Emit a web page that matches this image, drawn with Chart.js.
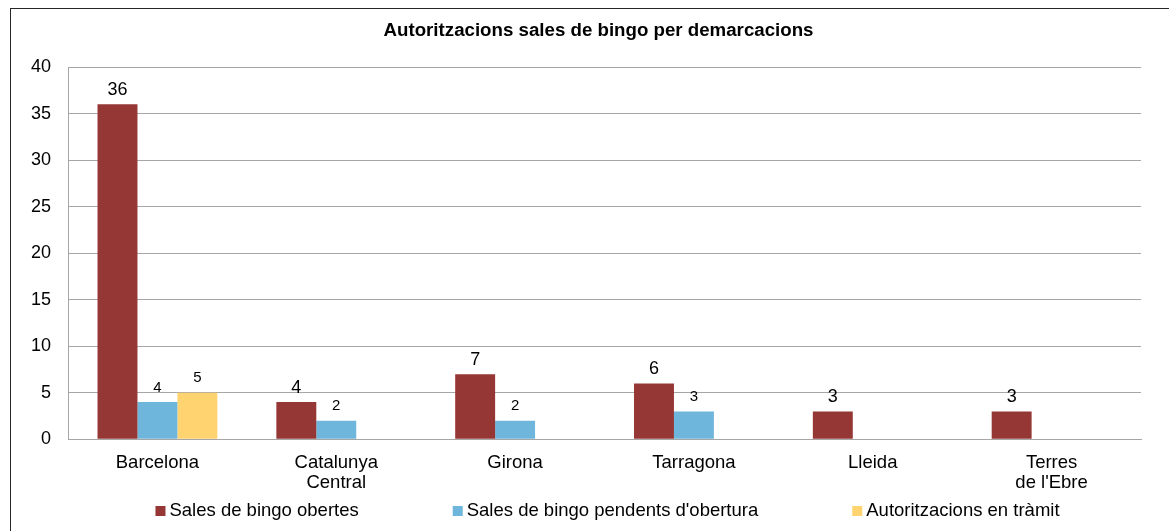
<!DOCTYPE html>
<html lang="ca">
<head>
<meta charset="UTF-8">
<title>Autoritzacions sales de bingo per demarcacions</title>
<script src="https://cdn.jsdelivr.net/npm/chart.js"></script>
<style>
  html, body { margin: 0; padding: 0; background: #fff; }
  .chart-wrap { width: 1169px; height: 531px; position: relative; }
</style>
</head>
<body>
<div class="chart-wrap"><canvas id="bingoChart"></canvas></div>
<script>
// dades
const demarcacions = ['Barcelona', ['Catalunya', 'Central'], 'Girona', 'Tarragona', 'Lleida', ['Terres', "de l'Ebre"]];
const salesObertes = [36, 4, 7, 6, 3, 3];
const salesPendents = [4, 2, 2, 3, null, null];
const autoritzacionsTramit = [5, null, null, null, null, null];
const yMax = 40;
const yStep = 5;

const FONT = "'Liberation Sans', Arial, sans-serif";

// marc exterior + titol
const framePlugin = {
  id: 'frame',
  afterDraw(chart) {
    const ctx = chart.ctx;
    const area = chart.chartArea;
    ctx.save();
    ctx.strokeStyle = '#262626';
    ctx.lineWidth = 1;
    ctx.strokeRect(10.5, 8.5, chart.width, chart.height);
    ctx.fillStyle = '#000';
    ctx.font = 'bold 18.7px ' + FONT;
    ctx.textAlign = 'center';
    ctx.textBaseline = 'middle';
    ctx.fillText('Autoritzacions sales de bingo per demarcacions', (area.left + area.right) / 2 - 6, 31);
    ctx.restore();
  }
};

// etiquetes de valor damunt les barres
const valueLabels = {
  id: 'valueLabels',
  afterDatasetsDraw(chart) {
    const ctx = chart.ctx;
    ctx.save();
    ctx.fillStyle = '#000';
    ctx.textAlign = 'center';
    ctx.textBaseline = 'bottom';
    chart.data.datasets.forEach((ds, i) => {
      const meta = chart.getDatasetMeta(i);
      ctx.font = (i === 0 ? '18px ' : '15px ') + FONT;
      meta.data.forEach((bar, j) => {
        const v = ds.data[j];
        if (v === null || v === undefined) return;
        ctx.fillText(String(v), bar.x, bar.y - (i === 0 ? 5 : 7));
      });
    });
    ctx.restore();
  }
};

// llegenda propia (mes espaiada que la de Chart.js)
const bottomLegend = {
  id: 'bottomLegend',
  afterDraw(chart) {
    const ctx = chart.ctx;
    const area = chart.chartArea;
    const box = 10, gapText = 4, gapItem = 94;
    ctx.save();
    ctx.font = '18.5px ' + FONT;
    const items = chart.data.datasets.map(ds => ({
      text: ds.label, color: ds.backgroundColor, w: ctx.measureText(ds.label).width
    }));
    let total = items.reduce((s, it) => s + box + gapText + it.w, 0) + gapItem * (items.length - 1);
    let x = (area.left + area.right) / 2 + 3 - total / 2;
    const y = chart.height - 20;
    ctx.textBaseline = 'middle';
    ctx.textAlign = 'left';
    items.forEach(it => {
      ctx.fillStyle = it.color;
      ctx.fillRect(x, y - box / 2, box, box);
      ctx.fillStyle = '#000';
      ctx.fillText(it.text, x + box + gapText, y);
      x += box + gapText + it.w + gapItem;
    });
    ctx.restore();
  }
};

new Chart(document.getElementById('bingoChart'), {
  type: 'bar',
  data: {
    labels: demarcacions,
    datasets: [
      { label: 'Sales de bingo obertes', data: salesObertes, backgroundColor: '#953735' },
      { label: "Sales de bingo pendents d'obertura", data: salesPendents, backgroundColor: '#6fb6dc' },
      { label: 'Autoritzacions en tràmit', data: autoritzacionsTramit, backgroundColor: '#ffd370' }
    ]
  },
  options: {
    responsive: true,
    maintainAspectRatio: false,
    animation: false,
    layout: { padding: { left: 14, right: 28, top: 67, bottom: 25 } },
    datasets: { bar: { categoryPercentage: 0.67, barPercentage: 1 } },
    plugins: {
      legend: { display: false },
      title: { display: false },
      tooltip: { enabled: false }
    },
    scales: {
      x: {
        grid: { display: false, drawTicks: false },
        border: { color: '#a6a6a6' },
        ticks: { color: '#000', font: { family: FONT, size: 18.5, lineHeight: 1.1 }, padding: 13, maxRotation: 0 }
      },
      y: {
        min: 0,
        max: yMax,
        ticks: { stepSize: yStep, color: '#000', font: { family: FONT, size: 18 }, padding: 17 },
        grid: { color: '#a6a6a6', drawTicks: false },
        border: { color: '#a6a6a6' }
      }
    }
  },
  plugins: [framePlugin, valueLabels, bottomLegend]
});
</script>
</body>
</html>
